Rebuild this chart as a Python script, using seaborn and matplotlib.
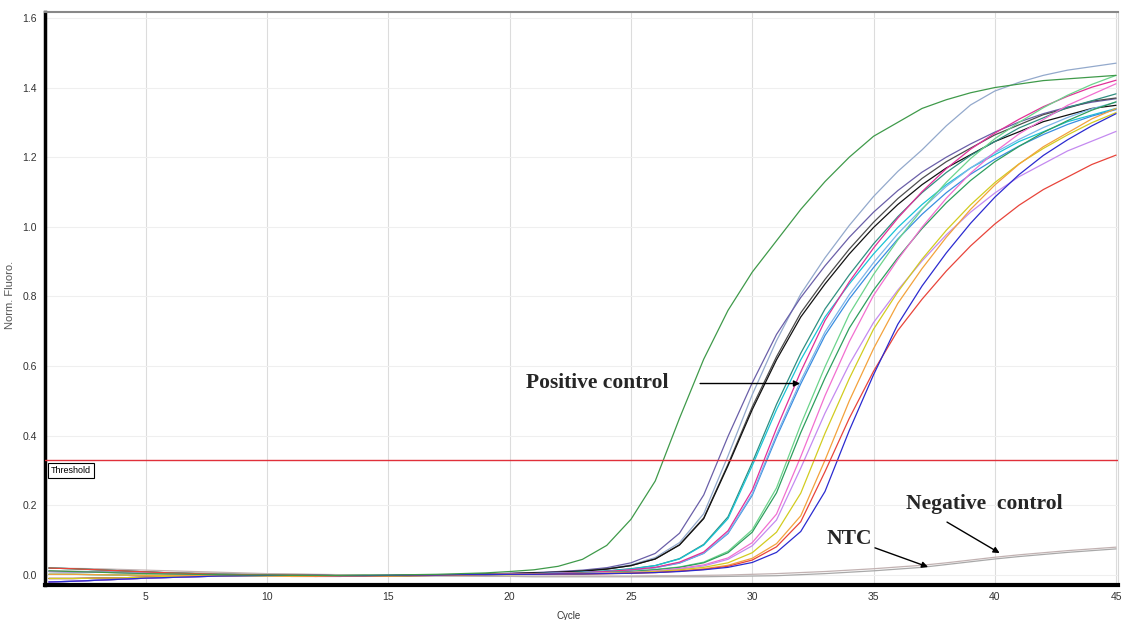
import matplotlib
matplotlib.use("Agg")
import matplotlib.pyplot as plt
import seaborn as sns
import pandas as pd

# ---------------- data ----------------
cycles = list(range(1, 46))

green = [0.012, 0.010, 0.008, 0.006, 0.004, 0.003, 0.002, 0.001, 0.000, 0.000,
         -0.001, -0.001, -0.001, 0.000, 0.000, 0.001, 0.002, 0.004, 0.006, 0.010,
         0.015, 0.025, 0.045, 0.085, 0.160, 0.270, 0.450, 0.620, 0.760, 0.870,
         0.960, 1.050, 1.130, 1.200, 1.260, 1.300, 1.340, 1.365, 1.385, 1.400,
         1.410, 1.420, 1.425, 1.430, 1.435]
grayblue = [0.020, 0.018, 0.015, 0.012, 0.009, 0.006, 0.004, 0.002, 0.001, 0.000,
            -0.001, -0.002, -0.002, -0.002, -0.002, -0.001, 0.000, 0.001,
            0.003, 0.004, 0.006, 0.008, 0.012, 0.019, 0.029, 0.050, 0.093, 0.176,
            0.342, 0.518, 0.673, 0.807, 0.911, 1.004, 1.087, 1.159, 1.221, 1.290,
            1.350, 1.390, 1.415, 1.435, 1.450, 1.460, 1.470]
purple = [-0.020, -0.018, -0.015, -0.012, -0.009, -0.007, -0.005, -0.003, -0.002, -0.001,
          -0.001, -0.001, -0.002, -0.002, -0.001, 0.000, 0.000, 0.001,
          0.003, 0.005, 0.007, 0.010, 0.014, 0.021, 0.035, 0.062, 0.120, 0.230,
          0.398, 0.552, 0.691, 0.797, 0.888, 0.970, 1.042, 1.104, 1.157, 1.200,
          1.238, 1.272, 1.301, 1.325, 1.344, 1.358, 1.368]
darkgray = [0.010, 0.009, 0.008, 0.007, 0.006, 0.004, 0.003, 0.001, 0.000, -0.002,
            -0.003, -0.004, -0.004, -0.003, -0.002, -0.001, 0.000, 0.001,
            0.003, 0.004, 0.006, 0.008, 0.012, 0.017, 0.027, 0.046, 0.087, 0.164,
            0.318, 0.483, 0.627, 0.753, 0.849, 0.936, 1.013, 1.081, 1.139, 1.187,
            1.226, 1.264, 1.293, 1.322, 1.341, 1.361, 1.370]
black = [-0.010, -0.010, -0.009, -0.008, -0.006, -0.004, -0.003, -0.002, -0.001, 0.000,
         0.000, -0.001, -0.002, -0.003, -0.003, -0.002, -0.001, 0.000,
         0.003, 0.004, 0.006, 0.008, 0.011, 0.017, 0.027, 0.046, 0.086, 0.162,
         0.314, 0.475, 0.618, 0.741, 0.836, 0.922, 0.998, 1.064, 1.121, 1.169,
         1.207, 1.245, 1.273, 1.302, 1.321, 1.340, 1.349]
teal = [0.002, 0.002, 0.001, 0.000, -0.001, -0.001, -0.002, -0.002, -0.002, -0.003,
        -0.004, -0.004, -0.003, -0.003, -0.002, -0.001, 0.000, 0.000, 0.001,
        0.003, 0.004, 0.006, 0.008, 0.012, 0.018, 0.027, 0.047, 0.088, 0.167,
        0.323, 0.490, 0.637, 0.764, 0.862, 0.951, 1.029, 1.098, 1.156, 1.205,
        1.245, 1.284, 1.313, 1.343, 1.362, 1.382]
cyan = [0.020, 0.018, 0.015, 0.012, 0.009, 0.006, 0.004, 0.002, 0.001, 0.000,
        -0.001, -0.002, -0.002, -0.002, -0.002, -0.001, 0.000, 0.001, 0.002,
        0.003, 0.004, 0.006, 0.008, 0.011, 0.017, 0.027, 0.046, 0.086, 0.162,
        0.314, 0.475, 0.618, 0.741, 0.836, 0.922, 0.998, 1.064, 1.121, 1.169,
        1.207, 1.245, 1.273, 1.302, 1.321, 1.340]
blue_mid = [-0.020, -0.018, -0.015, -0.012, -0.009, -0.007, -0.005, -0.003, -0.002, -0.001,
            -0.001, -0.001, -0.002, -0.002, -0.001, 0.000, 0.000, 0.001, 0.001,
            0.002, 0.003, 0.005, 0.007, 0.010, 0.014, 0.021, 0.034, 0.062, 0.119,
            0.229, 0.396, 0.549, 0.688, 0.793, 0.883, 0.965, 1.036, 1.098, 1.151,
            1.194, 1.232, 1.265, 1.294, 1.318, 1.337]
lightblue = [0.010, 0.009, 0.008, 0.007, 0.006, 0.004, 0.003, 0.001, 0.000, -0.002,
             -0.003, -0.004, -0.004, -0.003, -0.002, -0.001, 0.000, 0.001, 0.001,
             0.002, 0.003, 0.005, 0.007, 0.010, 0.015, 0.021, 0.035, 0.063, 0.121,
             0.233, 0.403, 0.558, 0.698, 0.805, 0.897, 0.980, 1.052, 1.116, 1.169,
             1.213, 1.251, 1.285, 1.314, 1.339, 1.358]
magenta = [-0.010, -0.010, -0.009, -0.008, -0.006, -0.004, -0.003, -0.002, -0.001, 0.000,
           0.000, -0.001, -0.002, -0.003, -0.003, -0.002, -0.001, 0.000, 0.001,
           0.003, 0.004, 0.005, 0.007, 0.010, 0.015, 0.022, 0.037, 0.066, 0.127,
           0.244, 0.421, 0.584, 0.731, 0.842, 0.939, 1.025, 1.101, 1.167, 1.223,
           1.269, 1.309, 1.345, 1.375, 1.401, 1.421]
lightgreen = [0.002, 0.002, 0.001, 0.000, -0.001, -0.001, -0.002, -0.002, -0.002, -0.003,
              -0.004, -0.004, -0.003, -0.003, -0.002, -0.001, 0.000, 0.000, 0.001, 0.002,
              0.003, 0.004, 0.005, 0.007, 0.010, 0.016, 0.023, 0.037, 0.068, 0.130,
              0.250, 0.432, 0.598, 0.749, 0.863, 0.962, 1.050, 1.128, 1.196, 1.253,
              1.300, 1.342, 1.378, 1.409, 1.435]
green2 = [0.020, 0.018, 0.015, 0.012, 0.009, 0.006, 0.004, 0.002, 0.001, 0.000,
          -0.001, -0.002, -0.002, -0.002, -0.002, -0.001, 0.000, 0.001, 0.002, 0.002,
          0.002, 0.003, 0.005, 0.007, 0.010, 0.015, 0.022, 0.035, 0.064, 0.123,
          0.236, 0.409, 0.566, 0.709, 0.818, 0.911, 0.995, 1.069, 1.133, 1.187,
          1.231, 1.271, 1.305, 1.335, 1.359]
pink = [-0.020, -0.018, -0.015, -0.012, -0.009, -0.007, -0.005, -0.003, -0.002, -0.001,
        -0.001, -0.001, -0.002, -0.002, -0.001, 0.000, 0.000, 0.001, 0.001, 0.002, 0.002,
        0.003, 0.004, 0.006, 0.008, 0.012, 0.019, 0.029, 0.049, 0.093, 0.175,
        0.340, 0.515, 0.670, 0.803, 0.906, 0.999, 1.082, 1.154, 1.215, 1.267,
        1.308, 1.349, 1.380, 1.411]
violet = [0.010, 0.009, 0.008, 0.007, 0.006, 0.004, 0.003, 0.001, 0.000, -0.002,
          -0.003, -0.004, -0.004, -0.003, -0.002, -0.001, 0.000, 0.001, 0.001, 0.002, 0.002,
          0.003, 0.004, 0.006, 0.007, 0.011, 0.017, 0.026, 0.045, 0.084, 0.158,
          0.307, 0.465, 0.605, 0.725, 0.818, 0.902, 0.977, 1.042, 1.097, 1.144,
          1.181, 1.218, 1.246, 1.274]
yellow = [-0.010, -0.010, -0.009, -0.008, -0.006, -0.004, -0.003, -0.002, -0.001, 0.000,
          0.000, -0.001, -0.002, -0.003, -0.003, -0.002, -0.001, 0.000, 0.001, 0.001, 0.002,
          0.002, 0.003, 0.005, 0.007, 0.010, 0.015, 0.022, 0.035, 0.064, 0.123,
          0.235, 0.407, 0.564, 0.706, 0.813, 0.907, 0.990, 1.063, 1.127, 1.181,
          1.225, 1.264, 1.299, 1.328]
orange = [0.002, 0.002, 0.001, 0.000, -0.001, -0.001, -0.002, -0.002, -0.002, -0.003,
          -0.004, -0.004, -0.003, -0.003, -0.002, -0.001, 0.000, 0.000, 0.001, 0.002, 0.002, 0.003,
          0.003, 0.004, 0.006, 0.008, 0.012, 0.018, 0.028, 0.048, 0.090, 0.170,
          0.330, 0.500, 0.650, 0.780, 0.880, 0.970, 1.050, 1.120, 1.180, 1.230,
          1.270, 1.310, 1.340]
red = [0.020, 0.018, 0.015, 0.012, 0.009, 0.006, 0.004, 0.002, 0.001, 0.000,
       -0.001, -0.002, -0.002, -0.002, -0.002, -0.001, 0.000, 0.001, 0.002, 0.002, 0.002, 0.003,
       0.003, 0.004, 0.005, 0.007, 0.011, 0.016, 0.025, 0.043, 0.081, 0.153,
       0.297, 0.450, 0.585, 0.702, 0.792, 0.873, 0.945, 1.008, 1.062, 1.107,
       1.143, 1.179, 1.206]
blue = [-0.020, -0.018, -0.015, -0.012, -0.009, -0.007, -0.005, -0.003, -0.002, -0.001,
        -0.001, -0.001, -0.002, -0.002, -0.001, 0.000, 0.000, 0.001, 0.001, 0.002, 0.002, 0.003,
        0.003, 0.004, 0.005, 0.007, 0.010, 0.015, 0.022, 0.036, 0.065, 0.125,
        0.240, 0.415, 0.575, 0.720, 0.830, 0.925, 1.010, 1.085, 1.150, 1.205,
        1.250, 1.290, 1.325]
ntc = [0.012, 0.011, 0.010, 0.009, 0.008, 0.007, 0.006, 0.005, 0.004, 0.003,
       0.002, 0.001, 0.000, -0.001, -0.002, -0.002, -0.003, -0.003, -0.004, -0.004,
       -0.005, -0.005, -0.005, -0.005, -0.005, -0.005, -0.005, -0.005, -0.004, -0.003,
       -0.002, 0.001, 0.004, 0.008, 0.012, 0.017, 0.022, 0.030, 0.038, 0.046,
       0.053, 0.059, 0.065, 0.070, 0.075]
negative = [0.020, 0.019, 0.018, 0.016, 0.014, 0.012, 0.010, 0.008, 0.006, 0.004,
            0.003, 0.002, 0.001, 0.000, -0.001, -0.002, -0.002, -0.003, -0.003, -0.003,
            -0.003, -0.003, -0.003, -0.003, -0.003, -0.002, -0.002, -0.001, 0.000, 0.002,
            0.004, 0.007, 0.010, 0.014, 0.018, 0.023, 0.028, 0.035, 0.043, 0.051,
            0.058, 0.064, 0.070, 0.075, 0.080]

threshold = 0.33
x_ticks = [5, 10, 15, 20, 25, 30, 35, 40, 45]
y_ticks = [0.0, 0.2, 0.4, 0.6, 0.8, 1.0, 1.2, 1.4, 1.6]
y_tick_labels = ["0.0", "0.2", "0.4", "0.6", "0.8", "1.0", "1.2", "1.4", "1.6"]

series = {
    "NTC": (ntc, "#a9a9a9"),
    "Negative control": (negative, "#c2b2b2"),
    "S1": (grayblue, "#93a9cc"),
    "S2": (purple, "#6a5fa8"),
    "S3": (darkgray, "#4d4d4d"),
    "S4": (black, "#111111"),
    "S5": (teal, "#2f8f80"),
    "S6": (cyan, "#19c3d6"),
    "S7": (blue_mid, "#3a8de0"),
    "S8": (lightblue, "#7cb5ea"),
    "S9": (magenta, "#e23098"),
    "S10": (lightgreen, "#6cd48c"),
    "S11": (green2, "#2e9e5e"),
    "S12": (pink, "#f26fd0"),
    "S13": (violet, "#c48af0"),
    "S14": (yellow, "#d2cc20"),
    "S15": (orange, "#f3a23c"),
    "S16": (red, "#e8443a"),
    "S17": (blue, "#2b2bd0"),
    "Positive control": (green, "#3f9a4a"),
}

rows = []
for name, (vals, _c) in series.items():
    for c, v in zip(cycles, vals):
        rows.append({"Cycle": c, "Fluoro": v, "Sample": name})
df = pd.DataFrame(rows)
palette = {name: col for name, (_v, col) in series.items()}

# ---------------- figure ----------------
sns.set_style("white")
plt.rcParams["font.family"] = ["Liberation Sans", "DejaVu Sans"]

fig = plt.figure(figsize=(11.26, 6.2), dpi=100)
ax = fig.add_axes([45 / 1126, 1 - 585 / 620, (1118 - 45) / 1126, (585 - 12) / 620])

# grid
for xt in x_ticks:
    ax.axvline(xt, color="#dcdcdc", lw=0.8, zorder=0)
for yt in y_ticks:
    ax.axhline(yt, color="#efefef", lw=0.8, zorder=0)

sns.lineplot(data=df, x="Cycle", y="Fluoro", hue="Sample", palette=palette,
             estimator=None, legend=False, linewidth=0.9, ax=ax)

ax.axhline(threshold, color="#e0303a", lw=1.0, zorder=3)

ax.set_xlim(0.84, 45.08)
ax.set_ylim(-0.0287, 1.617)
ax.set_xticks(x_ticks)
ax.set_xticklabels([str(t) for t in x_ticks])
ax.set_yticks(y_ticks)
ax.set_yticklabels(y_tick_labels)
ax.tick_params(axis="both", labelsize=7.5, colors="#333333", length=3, width=0.6,
               direction="out", pad=3)
ax.tick_params(axis="x", pad=2)

ax.set_xlabel("Cycle", fontsize=7, color="#333333")
ax.xaxis.set_label_coords(0.488, -0.045)
ax.set_ylabel("Norm. Fluoro.", fontsize=8, color="#555555")
ax.yaxis.set_label_coords(-0.028, 0.506)

for side in ["left", "bottom"]:
    ax.spines[side].set_color("black")
ax.spines["left"].set_linewidth(2.5)
ax.spines["bottom"].set_linewidth(3.0)
ax.spines["top"].set_color("#888888")
ax.spines["top"].set_linewidth(1.5)
ax.spines["right"].set_color("#d8d8d8")
ax.spines["right"].set_linewidth(0.8)

# threshold label
ax.text(1.08, 0.300, "Threshold", fontsize=6.5, color="black", va="center", ha="left",
        bbox=dict(boxstyle="square,pad=0.35", fc="white", ec="black", lw=0.8), zorder=5)

serif = ["Liberation Serif", "DejaVu Serif"]
arrow = dict(arrowstyle="-|>", color="black", lw=1.0, mutation_scale=9,
             shrinkA=0, shrinkB=0)

ax.text(23.6, 0.552, "Positive control", family=serif, fontweight="bold",
        fontsize=15.5, ha="center", va="center", zorder=6)
ax.annotate("", xy=(31.97, 0.55), xytext=(27.85, 0.55), arrowprops=arrow, zorder=6)

ax.text(39.55, 0.203, "Negative  control", family=serif, fontweight="bold",
        fontsize=15.5, ha="center", va="center", zorder=6)
ax.annotate("", xy=(40.2, 0.063), xytext=(38.03, 0.152), arrowprops=arrow, zorder=6)

ax.text(34.0, 0.103, "NTC", family=serif, fontweight="bold",
        fontsize=15.5, ha="center", va="center", zorder=6)
ax.annotate("", xy=(37.25, 0.023), xytext=(35.06, 0.078), arrowprops=arrow, zorder=6)

fig.savefig("out.png", dpi=100)
